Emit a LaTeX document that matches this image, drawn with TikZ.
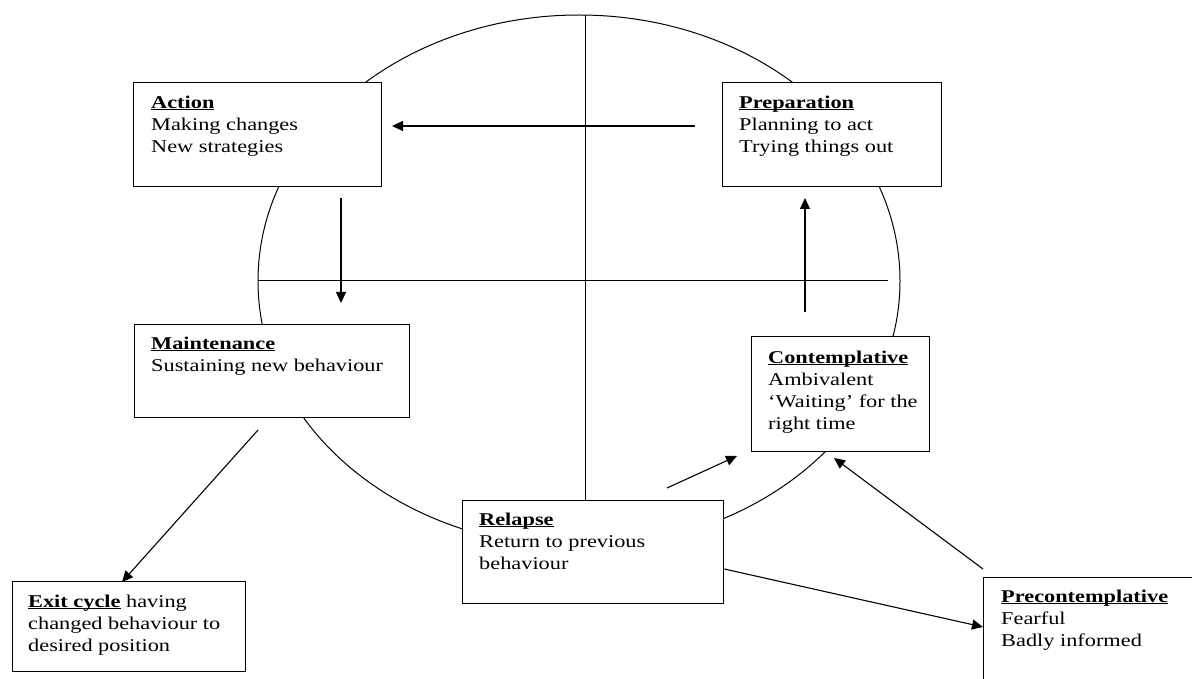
\documentclass[tikz,border=0pt]{standalone}
\usepackage{fontspec}
\setmainfont{Liberation Serif}[FakeStretch=1.24]
\usetikzlibrary{arrows.meta,calc}
\newcommand\ttl[1]{\underline{\smash{\textbf{#1}}}}
\begin{document}
\begin{tikzpicture}[x=1pt,y=-1pt,
  box/.style={draw, line width=1.3pt, fill=white, anchor=north west, inner sep=0pt},
  txt/.style={anchor=north west, inner sep=0pt, align=left, font=\fontsize{18}{22}\selectfont},
  arr/.style={line width=1.1pt, -{Triangle[length=11pt,width=10pt]}},
  ln/.style={line width=1pt}]
\clip (0,0) rectangle (1192,679);
\fill[white] (0,0) rectangle (1192,679);
% cycle
\draw[ln] (579,281) ellipse [x radius=321, y radius=266];
\coordinate (top) at (585,15);
\coordinate (hl) at (258,281);
\coordinate (hr) at (888,281);
\draw[ln] (hl) -- (hr);
% boxes
\node[box, minimum width=248pt, minimum height=104pt] (act) at (133,82) {};
\node[box, minimum width=219pt, minimum height=104pt] (prep) at (722,82) {};
\node[box, minimum width=275pt, minimum height=93pt] (main) at (134,324) {};
\node[box, minimum width=178pt, minimum height=115pt] (cont) at (751,336) {};
\node[box, minimum width=261pt, minimum height=103pt] (rel) at (462,500) {};
\node[box, minimum width=233pt, minimum height=90pt] (exit) at (12,581) {};
\node[box, minimum width=230pt, minimum height=130pt] (pre) at (983,577) {};
\draw[ln] (top) -- (top |- rel.north);
% texts
\node[txt] (tact) at ($(act.north west)+(18,11)$) {\rule{0pt}{15pt}\ttl{Action}\\Making changes\\New strategies};
\node[txt] (tprep) at ($(prep.north west)+(17,11)$) {\rule{0pt}{15pt}\ttl{Preparation}\\Planning to act\\Trying things out};
\node[txt] (tmain) at ($(main.north west)+(17,10)$) {\rule{0pt}{15pt}\ttl{Maintenance}\\Sustaining new behaviour};
\node[txt] (tcont) at ($(cont.north west)+(17,12)$) {\rule{0pt}{15pt}\ttl{Contemplative}\\Ambivalent\\`Waiting' for the\\right time};
\node[txt] (trel) at ($(rel.north west)+(17,10)$) {\rule{0pt}{15pt}\ttl{Relapse}\\Return to previous\\behaviour};
\node[txt] (texit) at ($(exit.north west)+(16,11)$) {\rule{0pt}{15pt}\ttl{Exit cycle} having\\changed behaviour to\\desired position};
\node[txt] (tpre) at ($(pre.north west)+(18,10)$) {\rule{0pt}{15pt}\ttl{Precontemplative}\\Fearful\\Badly informed};
% arrows
\coordinate (a1s) at (695,126); \coordinate (a1e) at (392,126);
\coordinate (a2s) at (341,198); \coordinate (a2e) at (341,303);
\coordinate (a3s) at (805,312); \coordinate (a3e) at (805,198);
\coordinate (a4s) at (667,488); \coordinate (a4e) at (737,456);
\coordinate (a5s) at (983,569); \coordinate (a5e) at (834,458);
\coordinate (a7s) at (258,430); \coordinate (a7e) at (122,582);
\draw[arr] (a1s) -- (a1e);
\draw[arr] (a2s) -- (a2e);
\draw[arr] (a3s) -- (a3e);
\draw[arr] (a4s) -- (a4e);
\draw[arr] (a5s) -- (a5e);
\draw[arr] (rel.east |- 0,569) -- (pre.west |- 0,627);
\draw[arr] (a7s) -- (a7e);
\end{tikzpicture}
\end{document}
